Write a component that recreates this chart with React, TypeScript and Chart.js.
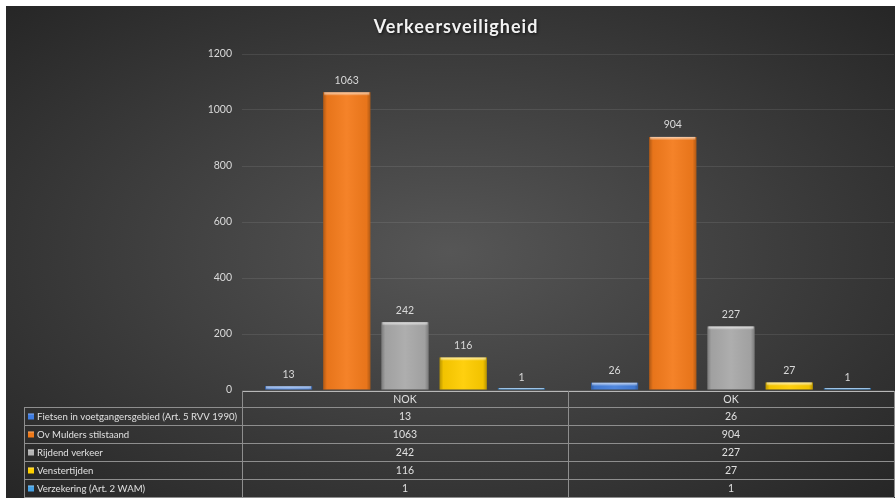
import { useEffect, useRef } from 'react';
import { Chart, registerables } from 'chart.js';

Chart.register(...registerables);

const title = 'Verkeersveiligheid';
const categories = ['NOK', 'OK'];
const seriesNames = [
  'Fietsen in voetgangersgebied (Art. 5 RVV 1990)',
  'Ov Mulders stilstaand',
  'Rijdend verkeer',
  'Venstertijden',
  'Verzekering (Art. 2 WAM)',
];
const fietsen = [13, 26];
const ovMulders = [1063, 904];
const rijdend = [242, 227];
const venstertijden = [116, 27];
const verzekering = [1, 1];
const seriesValues = [fietsen, ovMulders, rijdend, venstertijden, verzekering];
const yMin = 0;
const yMax = 1200;
const yStep = 200;

const seriesColors = ['#4680dc', '#f47b1c', '#a9a9a9', '#ffcd00', '#3e8fd8'];
const keyColors = ['#3f7de2', '#f07a1a', '#b4b4b4', '#ffd000', '#45a2e6'];

const FONT = 'Lato, "Noto Sans", sans-serif';

const bevelPlugin = {
  id: 'bevel',
  afterDatasetsDraw(chart: any) {
    const ctx = chart.ctx;
    chart.data.datasets.forEach((_: any, di: number) => {
      const meta = chart.getDatasetMeta(di);
      meta.data.forEach((el: any) => {
        const p = el.getProps(['x', 'y', 'base', 'width'], true);
        const l = p.x - p.width / 2;
        const w = p.width;
        const t = Math.min(p.y, p.base);
        const h = Math.abs(p.base - p.y);
        if (h < 0.5) return;
        ctx.save();
        const g = ctx.createLinearGradient(l, 0, l + w, 0);
        g.addColorStop(0, 'rgba(0,0,0,0.28)');
        g.addColorStop(0.08, 'rgba(0,0,0,0.05)');
        g.addColorStop(0.5, 'rgba(255,255,255,0.06)');
        g.addColorStop(0.92, 'rgba(0,0,0,0.05)');
        g.addColorStop(1, 'rgba(0,0,0,0.28)');
        ctx.fillStyle = g;
        ctx.fillRect(l, t, w, h);
        const hh = Math.min(3, h);
        const g2 = ctx.createLinearGradient(0, t, 0, t + hh);
        g2.addColorStop(0, 'rgba(255,255,255,0.65)');
        g2.addColorStop(1, 'rgba(255,255,255,0.15)');
        ctx.fillStyle = g2;
        ctx.fillRect(l + 1, t, w - 2, hh);
        ctx.restore();
      });
    });
  },
};

const labelPlugin = {
  id: 'valueLabels',
  afterDatasetsDraw(chart: any) {
    const ctx = chart.ctx;
    ctx.save();
    ctx.font = `10.5px ${FONT}`;
    ctx.fillStyle = '#d9d9d9';
    ctx.textAlign = 'center';
    ctx.textBaseline = 'middle';
    chart.data.datasets.forEach((ds: any, di: number) => {
      const meta = chart.getDatasetMeta(di);
      meta.data.forEach((el: any, i: number) => {
        const p = el.getProps(['x', 'base'], true);
        const top = chart.scales.y.getPixelForValue(ds.data[i]);
        ctx.fillText(String(ds.data[i]), p.x, top - 12);
      });
    });
    ctx.restore();
  },
};

const titlePlugin = {
  id: 'customTitle',
  afterDraw(chart: any) {
    const ctx = chart.ctx;
    ctx.save();
    ctx.font = `bold 18px ${FONT}`;
    (ctx as any).letterSpacing = '1px';
    ctx.fillStyle = '#f2f2f2';
    ctx.textAlign = 'center';
    ctx.textBaseline = 'middle';
    ctx.shadowColor = 'rgba(0,0,0,0.7)';
    ctx.shadowBlur = 3;
    ctx.shadowOffsetX = 1;
    ctx.shadowOffsetY = 1;
    ctx.fillText(title, 450, 21);
    ctx.restore();
  },
};

const tablePlugin = {
  id: 'dataTable',
  afterDraw(chart: any) {
    const ctx = chart.ctx;
    const area = chart.chartArea;
    const xs = chart.scales.x;
    const top = Math.round(area.bottom) + 1;
    const headerH = 16;
    const rowH = 18;
    const tableLeft = 18;
    const n = categories.length;
    const colW = (area.right - area.left) / n;
    const edges: number[] = [];
    for (let i = 0; i <= n; i++) edges.push(Math.round(area.left + i * colW));
    const rowsTop = top + headerH;
    const bottom = rowsTop + rowH * seriesNames.length;

    ctx.save();
    ctx.lineWidth = 1;
    ctx.strokeStyle = '#b8b8b8';
    ctx.beginPath();
    ctx.moveTo(edges[0], top + 0.5);
    ctx.lineTo(edges[n], top + 0.5);
    ctx.stroke();

    ctx.strokeStyle = '#8e8e8e';
    ctx.beginPath();
    for (let r = 0; r <= seriesNames.length; r++) {
      const y = rowsTop + r * rowH + 0.5;
      ctx.moveTo(tableLeft, y);
      ctx.lineTo(edges[n], y);
    }
    edges.forEach((x) => {
      ctx.moveTo(x + 0.5, top);
      ctx.lineTo(x + 0.5, bottom);
    });
    ctx.moveTo(tableLeft + 0.5, rowsTop);
    ctx.lineTo(tableLeft + 0.5, bottom);
    ctx.stroke();

    // label font sized so the longest label fits its cell like the reference
    const textLeft = tableLeft + 13;
    const avail = edges[0] - textLeft - 4;
    let size = 10.5;
    ctx.font = `${size}px ${FONT}`;
    const widest = Math.max(...seriesNames.map((s) => ctx.measureText(s).width));
    if (widest > avail) size = Math.floor((size * avail) / widest * 10) / 10;

    ctx.font = `10.5px ${FONT}`;
    ctx.fillStyle = '#e0e0e0';
    ctx.textBaseline = 'middle';
    ctx.textAlign = 'center';
    categories.forEach((c, i) => {
      ctx.fillText(c, xs.getPixelForValue(i), top + headerH / 2 + 0.5);
    });
    seriesNames.forEach((name, r) => {
      const cy = rowsTop + r * rowH + rowH / 2 + 0.5;
      ctx.fillStyle = keyColors[r];
      ctx.fillRect(tableLeft + 4, cy - 3, 6, 6);
      ctx.fillStyle = 'rgba(255,255,255,0.35)';
      ctx.fillRect(tableLeft + 4, cy - 3, 6, 1);
      ctx.fillStyle = '#e0e0e0';
      ctx.textAlign = 'left';
      ctx.font = `${size}px ${FONT}`;
      ctx.fillText(name, textLeft, cy);
      ctx.font = `10.5px ${FONT}`;
      ctx.textAlign = 'center';
      seriesValues[r].forEach((v, i) => {
        ctx.fillText(String(v), xs.getPixelForValue(i), cy);
      });
    });
    ctx.restore();
  },
};

export default function App() {
  const ref = useRef<HTMLCanvasElement>(null);
  useEffect(() => {
    if (!ref.current) return;
    const chart = new Chart(ref.current, {
      type: 'bar',
      data: {
        labels: categories,
        datasets: seriesNames.map((name, i) => ({
          label: name,
          data: seriesValues[i],
          backgroundColor: seriesColors[i],
          borderWidth: 0,
          minBarLength: 2,
          categoryPercentage: 0.893,
          barPercentage: 0.81,
        })),
      },
      options: {
        responsive: false,
        animation: false,
        layout: { padding: { top: 48, right: 1, bottom: 108, left: 0 } },
        plugins: {
          legend: { display: false },
          title: { display: false },
          tooltip: { enabled: false },
        },
        scales: {
          x: { display: false },
          y: {
            min: yMin,
            max: yMax,
            ticks: {
              stepSize: yStep,
              color: '#d9d9d9',
              font: { family: FONT, size: 10.5 },
              padding: 10,
              callback: (v: any) => String(v),
            },
            border: { display: false },
            grid: { color: 'rgba(255,255,255,0.09)', drawTicks: false },
            afterFit: (scale: any) => {
              scale.width = 236;
            },
          },
        },
      },
      plugins: [bevelPlugin, labelPlugin, tablePlugin, titlePlugin],
    });
    return () => chart.destroy();
  }, []);
  return (
    <div
      style={{
        position: 'fixed',
        left: 6,
        top: 6,
        width: 889,
        height: 492,
        background: 'radial-gradient(ellipse farthest-corner at 50% 50%, #565656 0%, #262626 100%)',
      }}
    >
      <canvas ref={ref} width={889} height={492} style={{ display: 'block' }} />
    </div>
  );
}
